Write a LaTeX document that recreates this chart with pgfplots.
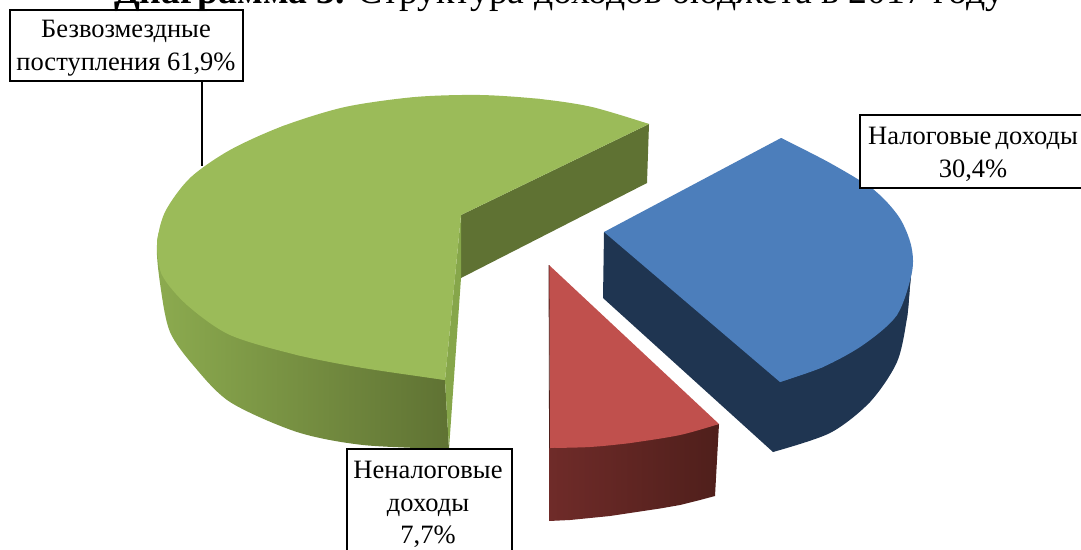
\documentclass[border=0pt]{standalone}
\usepackage{fontspec}
\setmainfont{Liberation Serif}
\usepackage{pgfplots}
\pgfplotsset{compat=1.18}

\definecolor{greentop}{HTML}{9BBB59}
\definecolor{greenside}{HTML}{8CAB4F}
\definecolor{greendark}{HTML}{5F7233}
\definecolor{greenstrip}{HTML}{86A64A}
\definecolor{redtop}{HTML}{C0504D}
\definecolor{redsidea}{HTML}{6F2B29}
\definecolor{redsideb}{HTML}{4F1F1B}
\definecolor{bluetop}{HTML}{4C7EBB}
\definecolor{bluedark}{HTML}{1F3551}

\tikzset{
	lbl/.style={font=\fontsize{26.5}{30}\selectfont,anchor=base,inner sep=0pt},
	box/.style={draw=black,line width=1.6pt,fill=white},
}

\begin{document}
\begin{tikzpicture}
\path[use as bounding box,clip] (0,0) rectangle (1081pt,549pt);
\begin{axis}[
	at={(0,0)},anchor=south west,
	scale only axis,width=1081pt,height=549pt,
	xmin=0,xmax=1081,ymin=0,ymax=549,y dir=reverse,
	hide axis,clip=false,
]
% green slice, side first: the path runs under the top face to reach the outer rim
\addplot[draw=none,smooth,left color=greenside,right color=greendark] coordinates {
	(445,380) (300,280) (200,190) (168,214) (157,245) (161,290) (170,332) (193,365)
	(230,402) (297,432) (363,445) (449,449)
};
\addplot[draw=none,fill=greendark] coordinates {
	(461,215) (649,124) (647,183) (461,278) (461,215)
};
\addplot[draw=none,fill=greenstrip] coordinates {
	(461,215) (461,278) (449,449) (445,380) (461,215)
};
% green top: the rims, then a polygon over their chords
\addplot[draw=none,smooth,fill=greentop] coordinates {
	(649,124) (592,107) (540,99) (480,95) (415,97) (345,107) (283,126) (230,150)
	(190,178) (165,212) (157,245) (162,275)
};
\addplot[draw=none,smooth,fill=greentop] coordinates {
	(159,232) (157,245) (162,275) (187,305) (230,335) (297,355) (363,368) (445,380)
};
\addplot[draw=none,fill=greentop] coordinates {
	(649,124) (540,99) (415,97) (283,126) (190,178) (157,245) (187,305) (297,355)
	(445,380) (461,215) (649,124)
};
% red slice
\addplot[draw=none,left color=redsidea,right color=redsideb] coordinates {
	(549,448) (719,424) (715,496) (700,500) (680,505) (660,508.5) (630,513) (610,516)
	(590,518) (570,520) (549,521) (549,448)
};
\addplot[draw=none,smooth,fill=redtop] coordinates {
	(719,424) (680,435) (630,443) (590,447) (550,448)
};
\addplot[draw=none,fill=redtop] coordinates {
	(549,265) (719,424) (630,443) (550,448) (549,265)
};
\addplot[redsideb,line width=0.8pt] coordinates {(549,265) (549.5,448)};
% blue slice
\addplot[draw=none,smooth,fill=bluedark] coordinates {
	(912,265) (910,285) (907,318) (897,362) (870,402) (830,433) (773,452)
};
\addplot[draw=none,fill=bluedark] coordinates {
	(604,232) (603,298) (773,452) (870,402) (907,318) (912,265) (604,232)
};
\addplot[draw=none,smooth,fill=bluetop] coordinates {
	(781,138) (830,163) (874,190) (899,217) (911,245) (912,272) (897,315) (863,345)
	(823,367) (780,382)
};
\addplot[draw=none,fill=bluetop] coordinates {
	(604,232) (781,138) (874,190) (911,245) (897,315) (823,367) (780,382) (604,232)
};
% leader and boxes
\addplot[black,line width=1.6pt] coordinates {(202,81) (202,166)};
\draw[box] (axis cs:10,10) rectangle (axis cs:243,81);
\draw[box] (axis cs:860,115) rectangle (axis cs:1095,188);
\draw[box] (axis cs:347,449) rectangle (axis cs:512,560);
% title, cut off by the top of the picture
\node[anchor=base,inner sep=0pt,font=\fontsize{37.7}{40}\selectfont] at (axis cs:559,3)
	{\textbf{Диаграмма 3.} Структура доходов бюджета в 2017 году};
\node[lbl] at (axis cs:126,37) {Безвозмездные};
\node[lbl] at (axis cs:126,70) {поступления 61,9\%};
\node[lbl] at (axis cs:973,144) {Налоговые\,доходы};
\node[lbl] at (axis cs:973,177) {30,4\%};
\node[lbl] at (axis cs:428,478) {Неналоговые};
\node[lbl] at (axis cs:428,511) {доходы};
\node[lbl] at (axis cs:428,543) {7,7\%};
\end{axis}
\end{tikzpicture}
\end{document}
